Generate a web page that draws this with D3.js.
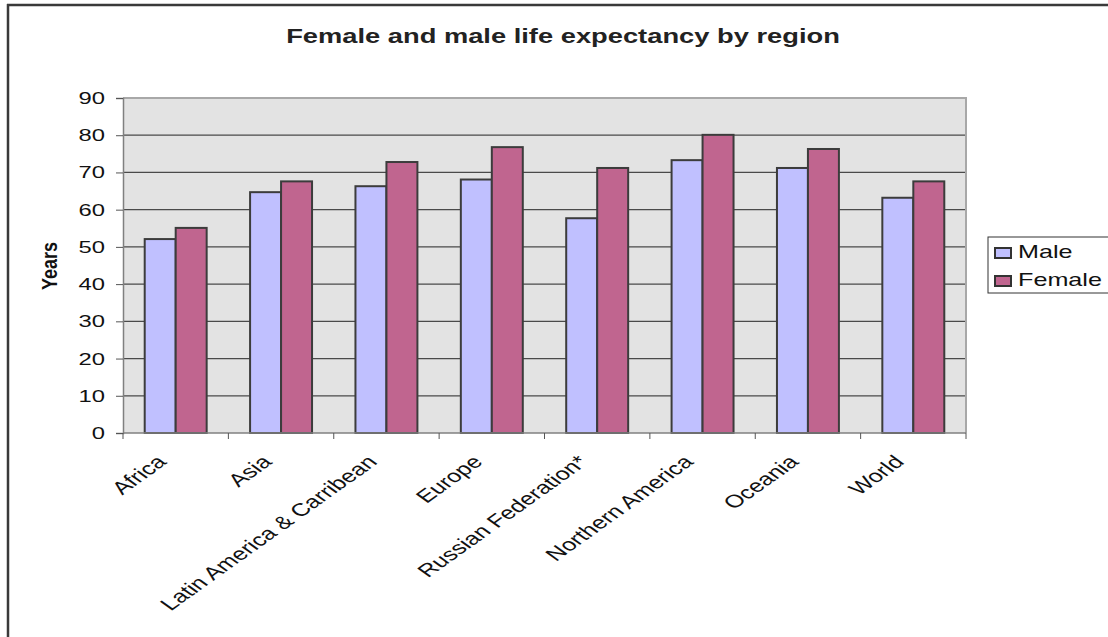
<!DOCTYPE html>
<html>
<head>
<meta charset="utf-8">
<script src="https://cdn.jsdelivr.net/npm/d3@7"></script>
<style>
  html, body { margin: 0; padding: 0; background: #fff; }
  svg { display: block; font-family: "Liberation Sans", Arial, sans-serif; }
</style>
</head>
<body>
<svg id="chart" width="1108" height="637"></svg>
<script>
// Life expectancy (years) by region
const regions = ["Africa", "Asia", "Latin America & Carribean", "Europe",
  "Russian Federation*", "Northern America", "Oceania", "World"];
const series = ["Male", "Female"];
const maleValues = [52.1, 64.7, 66.3, 68.1, 57.7, 73.3, 71.2, 63.2];
const femaleValues = [55.1, 67.6, 72.8, 76.8, 71.2, 80.1, 76.3, 67.6];
const yTicks = [0, 10, 20, 30, 40, 50, 60, 70, 80, 90];

const colors = { Male: "#c0c0ff", Female: "#c0658f" };
// text in this chart is drawn horizontally widened
const SX = 1.4;

const rows = regions.map((r, i) => ({ region: r, Male: maleValues[i], Female: femaleValues[i] }));

const svg = d3.select("#chart");

// outer frame (top and left edges)
svg.append("line").attr("x1", 7).attr("x2", 1108).attr("y1", 5).attr("y2", 5)
  .attr("stroke", "#3a3a3a").attr("stroke-width", 2.5);
svg.append("line").attr("x1", 8).attr("x2", 8).attr("y1", 4).attr("y2", 637)
  .attr("stroke", "#3a3a3a").attr("stroke-width", 2.5);

const plot = { left: 123, right: 966, top: 98, bottom: 433 };

const x = d3.scaleBand().domain(regions).range([plot.left, plot.right]).padding(0);
const xs = d3.scaleBand().domain(series)
  .range([x.bandwidth() * 0.206, x.bandwidth() * 0.794]).padding(0);
const y = d3.scaleLinear().domain([0, 90]).range([plot.bottom, plot.top]);

// plot background
svg.append("rect").attr("x", plot.left).attr("y", plot.top)
  .attr("width", plot.right - plot.left).attr("height", plot.bottom - plot.top)
  .attr("fill", "#e3e3e3");

// gridlines
svg.append("g").selectAll("line").data(yTicks.filter(t => t > 0 && t < 90)).join("line")
  .attr("x1", plot.left).attr("x2", plot.right)
  .attr("y1", d => y(d)).attr("y2", d => y(d))
  .attr("stroke", "#4a4a4a").attr("stroke-width", 1.2);

// plot border (top and right)
svg.append("path")
  .attr("d", `M${plot.left},${plot.top}H${plot.right}V${plot.bottom}`)
  .attr("fill", "none").attr("stroke", "#a8a8a8").attr("stroke-width", 2);

// bars
const groups = svg.append("g").selectAll("g").data(rows).join("g")
  .attr("transform", d => `translate(${x(d.region)},0)`);
groups.selectAll("rect").data(d => series.map(s => ({ key: s, value: d[s] }))).join("rect")
  .attr("x", d => xs(d.key))
  .attr("y", d => y(d.value))
  .attr("width", xs.bandwidth())
  .attr("height", d => y(0) - y(d.value))
  .attr("fill", d => colors[d.key])
  .attr("stroke", "#3c3c3c").attr("stroke-width", 2);

// y axis
const yAxis = svg.append("g").attr("transform", `translate(${plot.left},0)`)
  .call(d3.axisLeft(y).tickValues(yTicks).tickSize(7).tickPadding(18));
yAxis.select(".domain").attr("stroke", "#808080").attr("stroke-width", 1.5);
yAxis.selectAll(".tick line").attr("stroke", "#555");
yAxis.selectAll(".tick text")
  .attr("font-size", 17).attr("fill", "#111")
  .attr("font-family", "Liberation Sans, Arial, sans-serif")
  .attr("x", 0)
  .attr("transform", `translate(-18,0) scale(${SX},1)`);

// x axis with ticks at category boundaries
const bounds = regions.map(r => x(r)).concat([plot.right]);
const xAxisG = svg.append("g");
xAxisG.append("line").attr("x1", plot.left).attr("x2", plot.right)
  .attr("y1", plot.bottom).attr("y2", plot.bottom)
  .attr("stroke", "#808080").attr("stroke-width", 1.5);
xAxisG.selectAll("line.tk").data(bounds).join("line").attr("class", "tk")
  .attr("x1", d => d).attr("x2", d => d)
  .attr("y1", plot.bottom).attr("y2", plot.bottom + 6)
  .attr("stroke", "#555");

// rotated category labels
svg.append("g").selectAll("text").data(regions).join("text")
  .attr("transform", d => `translate(${x(d) + x.bandwidth() / 2 - 8},${plot.bottom + 30}) scale(${SX},1) rotate(-45)`)
  .attr("text-anchor", "end")
  .attr("font-size", 18).attr("fill", "#111")
  .text(d => d);

// y axis title
svg.append("text")
  .attr("transform", `translate(57,266) scale(1.25,1) rotate(-90)`)
  .attr("text-anchor", "middle")
  .attr("font-size", 18).attr("font-weight", "bold").attr("fill", "#111")
  .text("Years");

// chart title
svg.append("text")
  .attr("transform", `translate(563,43) scale(${SX},1)`)
  .attr("text-anchor", "middle")
  .attr("font-size", 19.5).attr("font-weight", "bold").attr("fill", "#222")
  .text("Female and male life expectancy by region");

// legend
const legend = svg.append("g");
legend.append("rect").attr("x", 988).attr("y", 237).attr("width", 130).attr("height", 56)
  .attr("fill", "#fff").attr("stroke", "#333").attr("stroke-width", 1);
const li = legend.selectAll("g.item").data(series).join("g").attr("class", "item")
  .attr("transform", (d, i) => `translate(995,${248 + i * 28})`);
li.append("rect").attr("width", 16).attr("height", 10)
  .attr("fill", d => colors[d]).attr("stroke", "#333").attr("stroke-width", 2);
li.append("text")
  .attr("transform", `translate(23,9.5) scale(${SX},1)`)
  .attr("font-size", 18).attr("fill", "#111").text(d => d);
</script>
</body>
</html>
